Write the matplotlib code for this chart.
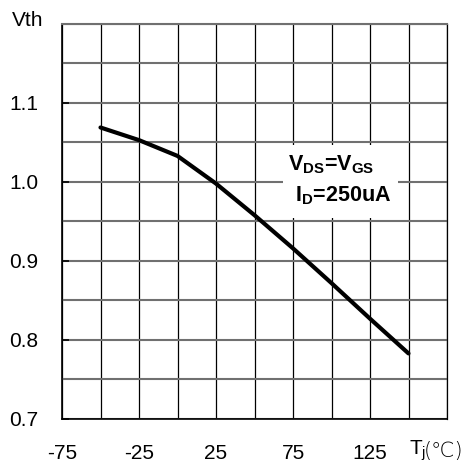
import numpy as np
import matplotlib
matplotlib.use("Agg")
import matplotlib.pyplot as plt
import matplotlib.transforms as mtransforms
from matplotlib.patches import Rectangle

plt.rcParams['font.family'] = ['Liberation Sans', 'DejaVu Sans']
plt.rcParams['mathtext.default'] = 'regular'

# threshold voltage vs junction temperature
tj = [-50, -25, 0, 25, 50, 75, 100, 125, 150]
vth = [1.069, 1.053, 1.033, 0.998, 0.958, 0.916, 0.872, 0.827, 0.783]

xticks = [-75, -25, 25, 75, 125]
yticks = [0.7, 0.8, 0.9, 1.0, 1.1]

fig = plt.figure(figsize=(4.65, 4.66), dpi=100)
ax = fig.add_axes([62/465, 1 - 419/466, 385/465, 395/466])

ax.set_xlim(-75, 175)
ax.set_ylim(0.7, 1.2)

# grid: vertical lines thin black, horizontal lines grey
for x in np.arange(-75, 176, 25):
    ax.axvline(x, color='black', lw=0.9, zorder=1)
for y in np.arange(0.7, 1.201, 0.05):
    ax.axhline(y, color='#707070', lw=1.5, zorder=1)

ax.plot(tj, vth, color='black', lw=3, solid_capstyle='round', zorder=3)

ax.set_xticks(xticks)
ax.set_xticklabels([str(t) for t in xticks], fontsize=15)
ax.set_yticks(yticks)
ax.set_yticklabels(['%.1f' % v for v in yticks], fontsize=15)
ax.tick_params(axis='x', length=0, pad=18)
ax.tick_params(axis='y', direction='in', length=5, width=1.2, pad=17)

for side in ['left', 'bottom']:
    ax.spines[side].set_color('black')
    ax.spines[side].set_linewidth(1.2)
ax.spines['top'].set_color('#707070')
ax.spines['top'].set_linewidth(1.5)
ax.spines['right'].set_color('black')
ax.spines['right'].set_linewidth(0.9)

# axis titles
fig.text(12/465, 1 - 20/466, 'Vth', fontsize=15, ha='left', va='center')
trans = mtransforms.blended_transform_factory(ax.transData, fig.transFigure)
ax.text(150, 1 - 451/466, '$T_j$', transform=trans, fontsize=15,
        ha='left', va='center')
ax.annotate('(℃)', xy=(150, 1 - 451/466), xycoords=trans,
            xytext=(11, 0), textcoords='offset points', fontsize=15,
            family=['DejaVu Sans'], fontweight='light',
            ha='left', va='center', annotation_clip=False)

# test condition label on a white patch over the grid
ax.add_patch(Rectangle((0.574, 0.509), 0.299, 0.185, transform=ax.transAxes,
                       facecolor='white', edgecolor='none', zorder=2))
ax.text(99.5, 1.015, '$V_{DS}$=$V_{GS}$', fontsize=15.5, fontweight='bold',
        ha='center', va='baseline', zorder=4)
ax.text(107.5, 0.976, '$I_D$=250uA', fontsize=15.5, fontweight='bold',
        ha='center', va='baseline', zorder=4)

fig.savefig('out.png', dpi=100)
